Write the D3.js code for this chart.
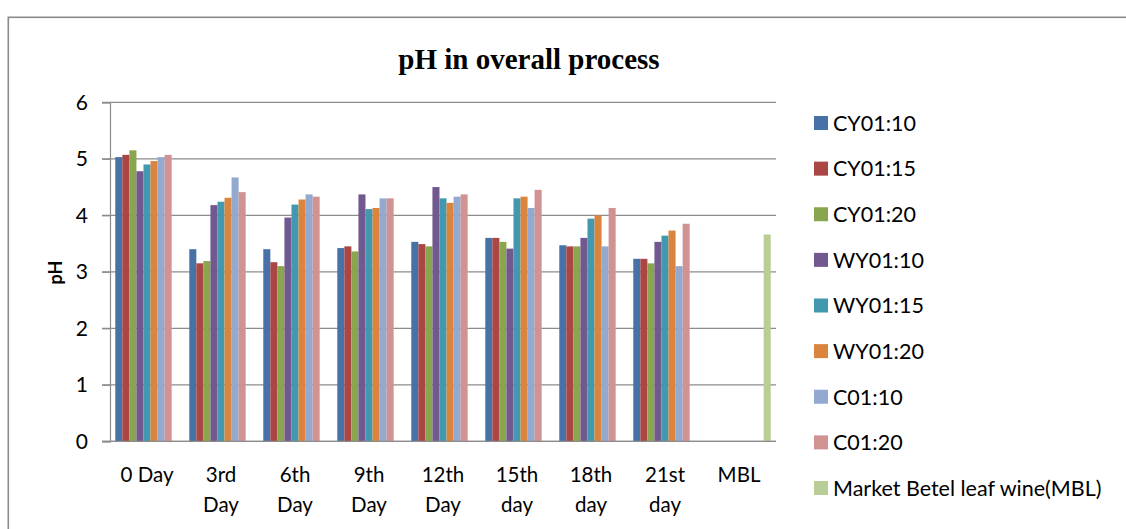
<!DOCTYPE html>
<html>
<head>
<meta charset="utf-8">
<script src="https://cdn.jsdelivr.net/npm/d3@7"></script>
<style>
  html, body { margin: 0; padding: 0; background: #fff; }
  svg { display: block; }
</style>
</head>
<body>
<svg id="chart" width="1126" height="529"></svg>
<script>
const categories = ["0 Day", "3rd Day", "6th Day", "9th Day", "12th Day", "15th day", "18th day", "21st day", "MBL"];
const seriesNames = ["CY01:10", "CY01:15", "CY01:20", "WY01:10", "WY01:15", "WY01:20", "C01:10", "C01:20", "Market Betel leaf wine(MBL)"];
const CY01_10 = [5.03, 3.40, 3.40, 3.42, 3.53, 3.60, 3.47, 3.23, null];
const CY01_15 = [5.07, 3.15, 3.17, 3.45, 3.49, 3.60, 3.45, 3.23, null];
const CY01_20 = [5.15, 3.19, 3.10, 3.36, 3.45, 3.53, 3.45, 3.15, null];
const WY01_10 = [4.78, 4.18, 3.96, 4.37, 4.50, 3.41, 3.60, 3.53, null];
const WY01_15 = [4.90, 4.24, 4.19, 4.11, 4.30, 4.30, 3.94, 3.64, null];
const WY01_20 = [4.96, 4.31, 4.28, 4.13, 4.22, 4.33, 4.00, 3.73, null];
const C01_10  = [5.03, 4.67, 4.37, 4.30, 4.33, 4.13, 3.45, 3.10, null];
const C01_20  = [5.07, 4.41, 4.33, 4.30, 4.37, 4.45, 4.13, 3.85, null];
const MBL     = [null, null, null, null, null, null, null, null, 3.66];
const yTicks = [0, 1, 2, 3, 4, 5, 6];
const colors = ["#4672A8", "#AA4643", "#89A54E", "#71588F", "#4198AF", "#DB843D", "#93A9CF", "#D19392", "#B9CD96"];
const titleText = "pH in overall process";
const yLabel = "pH";

const seriesValues = [CY01_10, CY01_15, CY01_20, WY01_10, WY01_15, WY01_20, C01_10, C01_20, MBL];

const svg = d3.select("#chart");
const plotLeft = 110, plotRight = 776, plotTop = 102.3, plotBottom = 441.3;

// outer border
svg.append("rect")
  .attr("x", 8.3).attr("y", 17.3)
  .attr("width", 1130).attr("height", 530)
  .attr("fill", "none").attr("stroke", "#8a8a8a").attr("stroke-width", 1.6);

const y = d3.scaleLinear().domain([0, 6]).range([plotBottom, plotTop]);
const x0 = d3.scaleBand().domain(categories).range([plotLeft, plotRight]).paddingInner(0).paddingOuter(0);
const x1 = d3.scaleBand().domain(seriesNames).range([0, x0.bandwidth()]).paddingInner(0).paddingOuter(0.75);

// gridlines
svg.append("g").selectAll("line").data(yTicks).join("line")
  .attr("x1", plotLeft - 8).attr("x2", plotRight)
  .attr("y1", d => y(d)).attr("y2", d => y(d))
  .attr("stroke", "#8c8c8c").attr("stroke-width", 1.2);

// y axis
const yAxis = d3.axisLeft(y).tickValues(yTicks).tickSize(8).tickPadding(14).tickFormat(d3.format("d"));
const gy = svg.append("g").attr("transform", `translate(${plotLeft},0)`).call(yAxis);
gy.select(".domain").attr("stroke", "#8c8c8c").attr("stroke-width", 1.2);
gy.selectAll(".tick line").attr("stroke", "#8c8c8c").attr("stroke-width", 1.2);
gy.selectAll(".tick text")
  .attr("font-family", "Lato, 'Open Sans', sans-serif").attr("font-size", 21).attr("fill", "#000");

// bars
const rows = [];
seriesNames.forEach((s, si) => {
  categories.forEach((c, ci) => {
    const v = seriesValues[si][ci];
    if (v != null) rows.push({ s, c, v, color: colors[si] });
  });
});
svg.append("g").selectAll("rect").data(rows).join("rect")
  .attr("x", d => x0(d.c) + x1(d.s))
  .attr("y", d => y(d.v))
  .attr("width", x1.bandwidth())
  .attr("height", d => y(0) - y(d.v))
  .attr("fill", d => d.color);

// x axis line
svg.append("line")
  .attr("x1", plotLeft - 8).attr("x2", plotRight)
  .attr("y1", y(0)).attr("y2", y(0))
  .attr("stroke", "#8c8c8c").attr("stroke-width", 1.2);

// x labels with wrapping
const xAxis = d3.axisBottom(x0).tickSize(0).tickPadding(0);
const gx = svg.append("g").attr("transform", `translate(0,${plotBottom})`).call(xAxis);
gx.select(".domain").remove();
gx.selectAll(".tick text")
  .attr("font-family", "Lato, 'Open Sans', sans-serif").attr("font-size", 20.5).attr("fill", "#000")
  .attr("y", 0).attr("dy", 0)
  .each(function(d) {
    const t = d3.select(this);
    t.text(null);
    const lines = d.split(" ").length > 1 && d !== "0 Day" ? d.split(" ") : [d];
    lines.forEach((ln, i) => {
      t.append("tspan").attr("x", 0).attr("y", 41 + i * 30).text(ln);
    });
  });

// y label
svg.append("text")
  .attr("transform", "translate(62,272.5) rotate(-90)")
  .attr("text-anchor", "middle")
  .attr("font-family", "Lato, 'Open Sans', sans-serif").attr("font-weight", "bold")
  .attr("font-size", 18).text(yLabel);

// title
svg.append("text")
  .attr("x", 529).attr("y", 69)
  .attr("text-anchor", "middle")
  .attr("font-family", "'Liberation Serif', 'Times New Roman', serif").attr("font-weight", "bold")
  .attr("font-size", 29).text(titleText);

// legend
const legend = svg.append("g");
const legendY = d3.scalePoint().domain(seriesNames).range([123, 488]);
seriesNames.forEach((s, i) => {
  const g = legend.append("g").attr("transform", `translate(814,${legendY(s)})`);
  g.append("rect").attr("x", 0).attr("y", -7).attr("width", 14).attr("height", 14).attr("fill", colors[i]);
  g.append("text").attr("x", 19).attr("y", 7.8)
    .attr("font-family", "Lato, 'Open Sans', sans-serif").attr("font-size", 21.5).attr("fill", "#000")
    .text(s);
});
</script>
</body>
</html>
